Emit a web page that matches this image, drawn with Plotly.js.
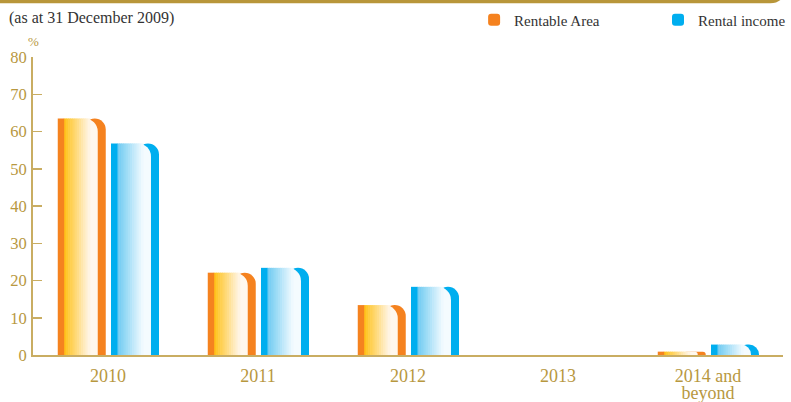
<!DOCTYPE html>
<html>
<head>
<meta charset="utf-8">
<script src="https://cdn.plot.ly/plotly-3.0.1.min.js"></script>
<style>html,body{margin:0;padding:0;background:#fff;}#chart{width:791px;height:402px;}</style>
</head>
<body>
<div id="chart"></div>
<script>
// ---- data ----
const categories = ['2010', '2011', '2012', '2013', '2014 and<br>beyond'];
const rentableArea = [63.5, 22.1, 13.4, 0, 0.9];
const rentalIncome = [56.8, 23.4, 18.3, 0, 2.8];
const seriesNames = ['Rentable Area', 'Rental income'];

// ---- styling helpers ----
const PX = 1 / 150; // one pixel in category units
function hex(c){return [parseInt(c.slice(1,3),16),parseInt(c.slice(3,5),16),parseInt(c.slice(5,7),16)];}
function mix(a,b,t){const A=hex(a),B=hex(b);return 'rgb('+A.map((v,i)=>Math.round(v+(B[i]-v)*t)).join(',')+')';}

function barTraces(name, values, left, solid, gradStart, gradEnd, light, legendId){
  const base = {type:'bar', x:categories, y:values, hoverinfo:'skip', legendgroup:name, name:name, showlegend:false, legend:legendId};
  const tr = [];
  tr.push(Object.assign({}, base, {offset:left+26*PX, width:22*PX, marker:{color:solid, cornerradius:15, line:{width:0}}, showlegend:true}));
  tr.push(Object.assign({}, base, {offset:left+14*PX, width:26*PX, marker:{color:light, cornerradius:13, line:{width:0}}}));
  const n = 12, start = 6, end = 32, w = (end-start)/n;
  for(let i=0;i<n;i++){
    tr.push(Object.assign({}, base, {offset:left+(start+i*w)*PX, width:(w+0.6)*PX, marker:{color:mix(gradStart,gradEnd,i/(n-1)), line:{width:0}}}));
  }
  tr.push(Object.assign({}, base, {offset:left, width:6.5*PX, marker:{color:solid, line:{width:0}}}));
  return tr;
}

const traces = [].concat(
  barTraces(seriesNames[0], rentableArea, -0.335, '#F5821F', '#FFC21C', '#FFF4E2', '#FFF8EE', 'legend'),
  barTraces(seriesNames[1], rentalIncome, 0.02, '#00AEEF', '#6FCBF2', '#EEF9FE', '#F4FBFE', 'legend2')
);

const SERIF = 'Liberation Serif';
const gold = '#B8983F';
const axisGold = '#C9AD62';
const legendFont = {family:SERIF, size:15, color:'#333333'};

const layout = {
  width:791, height:402,
  margin:{l:33, r:8, t:57, b:47},
  paper_bgcolor:'#ffffff', plot_bgcolor:'#ffffff',
  barmode:'overlay',
  font:{family:SERIF, color:gold, size:15},
  showlegend:true,
  legend:{orientation:'h', xref:'container', yref:'container', x:0.765, xanchor:'right', y:0.95, yanchor:'middle',
          font:legendFont, bgcolor:'rgba(0,0,0,0)'},
  legend2:{orientation:'h', xref:'container', yref:'container', x:1.0, xanchor:'right', y:0.95, yanchor:'middle',
          font:legendFont, bgcolor:'rgba(0,0,0,0)'},
  xaxis:{type:'category', range:[-0.5,4.5], showgrid:false, zeroline:false,
         showline:true, linecolor:axisGold, linewidth:2, ticks:'', ticklabelstandoff:3,
         tickfont:{family:SERIF, size:18, color:gold}, fixedrange:true},
  yaxis:{range:[0,80], dtick:10, showgrid:false, zeroline:false,
         showline:true, linecolor:axisGold, linewidth:2,
         ticks:'inside', ticklen:9, tickwidth:1.5, tickcolor:axisGold, ticklabelstandoff:1,
         tickfont:{family:SERIF, size:16.5, color:gold}, fixedrange:true},
  annotations:[
    {text:'(as at 31 December 2009)', xref:'paper', yref:'paper', x:-0.035, y:1.131, xanchor:'left', yanchor:'middle',
     showarrow:false, font:{family:SERIF, size:16, color:'#333333'}},
    {text:'%', xref:'paper', yref:'paper', x:0.001, y:1.02, xanchor:'center', yanchor:'bottom',
     showarrow:false, font:{family:SERIF, size:13, color:gold}}
  ],
  shapes:[
    {type:'path', xref:'paper', yref:'paper', layer:'above',
     path:'M -0.05 1.195 L 0.998 1.195 Q 0.993 1.181 0.983 1.18 L -0.05 1.18 Z',
     fillcolor:'#B8963A', line:{width:0}}
  ]
};

Plotly.newPlot('chart', traces, layout, {displayModeBar:false, staticPlot:true}).then(function(gd){
  // tighten line spacing of the two-line category label
  gd.querySelectorAll('.xtick text tspan.line').forEach(function(t){
    if(t.getAttribute('dy') && t.getAttribute('dy') !== '0em') t.setAttribute('dy', '0.95em');
  });
});
</script>
</body>
</html>
